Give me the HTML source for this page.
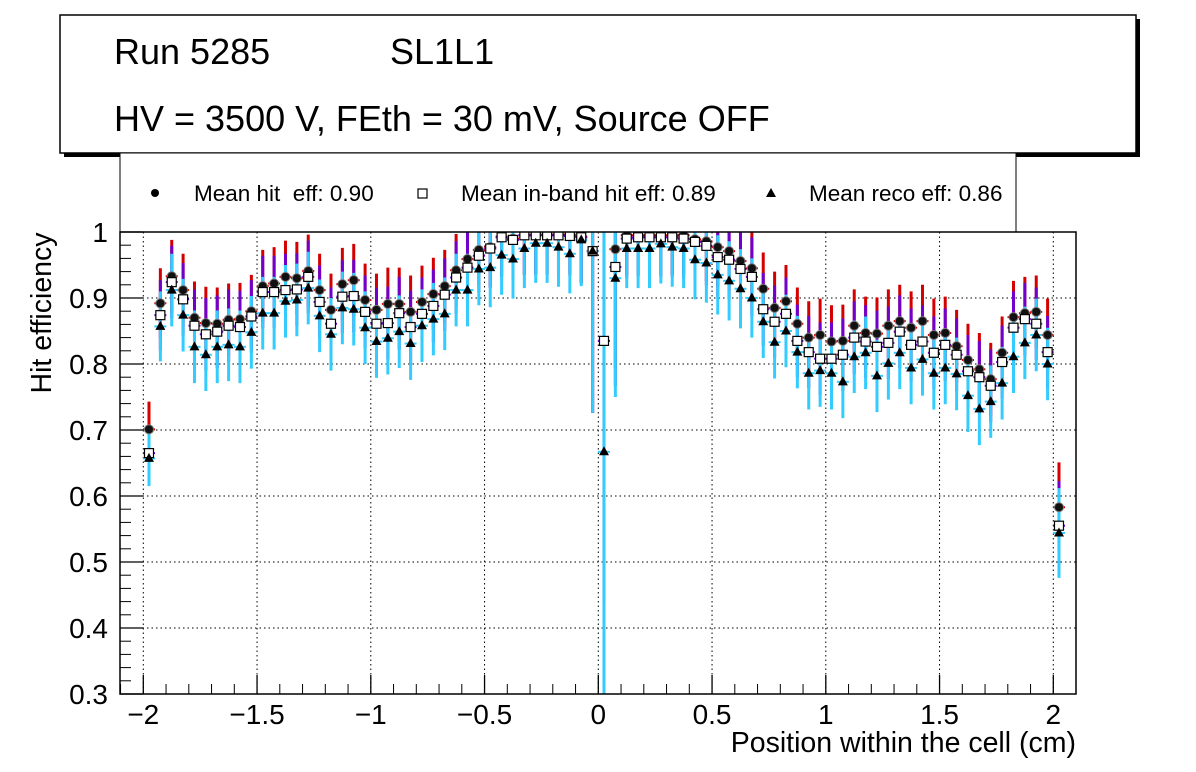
<!DOCTYPE html>
<html><head><meta charset="utf-8"><style>
html,body{margin:0;padding:0;background:#fff;}
svg{display:block;font-family:"Liberation Sans",Arial,sans-serif;}
text{white-space:pre;}
</style></head><body>
<svg id="c" width="1196" height="772" viewBox="0 0 1196 772">
  <rect x="64" y="19" width="1076" height="138" fill="#000"/>
  <rect x="60" y="15" width="1076" height="138" fill="#fff" stroke="#000" stroke-width="1.5"/>
  <text x="114" y="64" font-size="36">Run 5285</text>
  <text x="390" y="64" font-size="36">SL1L1</text>
  <text x="114" y="131" font-size="36">HV = 3500 V, FEth = 30 mV, Source OFF</text>
  <rect x="120" y="153" width="896" height="79" fill="#fff" stroke="#000" stroke-width="1"/>
  <g>
    <circle cx="155" cy="193" r="4" fill="#000"/>
    <text x="194" y="201" font-size="22.5" xml:space="preserve">Mean hit  eff: 0.90</text>
  </g>
  <g>
    <rect x="418" y="189" width="9" height="9" fill="#fff" stroke="#000" stroke-width="1.2"/>
    <text x="461" y="201" font-size="22.5">Mean in-band hit eff: 0.89</text>
  </g>
  <g>
    <polygon points="771,188 776,197 766,197" fill="#000"/>
    <text x="809" y="201" font-size="22.5">Mean reco eff: 0.86</text>
  </g>
  <defs><clipPath id="fc"><rect x="120" y="232" width="956" height="462"/></clipPath></defs>
  <g id="grid"></g>
  <g id="marks" clip-path="url(#fc)"></g>
  <rect x="120" y="232" width="956" height="462" fill="none" stroke="#000" stroke-width="1.5"/>
  <g id="axes"></g>
  <text x="51" y="313" font-size="28.5" text-anchor="middle" transform="rotate(-90 51 313)">Hit efficiency</text>
  <text x="1076" y="752" font-size="28.5" text-anchor="end">Position within the cell (cm)</text>
</svg>
<script>
const xPos=[-1.975,-1.925,-1.875,-1.825,-1.775,-1.725,-1.675,-1.625,-1.575,-1.525,-1.475,-1.425,-1.375,-1.325,-1.275,-1.225,-1.175,-1.125,-1.075,-1.025,-0.975,-0.925,-0.875,-0.825,-0.775,-0.725,-0.675,-0.625,-0.575,-0.525,-0.475,-0.425,-0.375,-0.325,-0.275,-0.225,-0.175,-0.125,-0.075,-0.025,0.025,0.075,0.125,0.175,0.225,0.275,0.325,0.375,0.425,0.475,0.525,0.575,0.625,0.675,0.725,0.775,0.825,0.875,0.925,0.975,1.025,1.075,1.125,1.175,1.225,1.275,1.325,1.375,1.425,1.475,1.525,1.575,1.625,1.675,1.725,1.775,1.825,1.875,1.925,1.975,2.025];
const hitEff=[0.701,0.892,0.933,0.912,0.870,0.862,0.861,0.867,0.868,0.880,0.918,0.922,0.932,0.930,0.941,0.912,0.882,0.921,0.927,0.897,0.882,0.891,0.891,0.879,0.894,0.906,0.918,0.942,0.959,0.973,0.977,0.993,0.990,0.995,0.996,0.996,0.996,0.996,0.993,0.971,0.835,0.974,0.995,0.995,0.995,0.995,0.995,0.995,0.989,0.986,0.977,0.971,0.956,0.945,0.914,0.885,0.895,0.861,0.840,0.844,0.834,0.835,0.858,0.847,0.846,0.858,0.865,0.855,0.865,0.844,0.847,0.827,0.806,0.792,0.777,0.817,0.871,0.877,0.879,0.844,0.583];
const inbandEff=[0.665,0.874,0.924,0.898,0.858,0.845,0.849,0.858,0.856,0.872,0.909,0.909,0.912,0.913,0.932,0.894,0.861,0.902,0.903,0.879,0.861,0.862,0.877,0.856,0.876,0.888,0.905,0.931,0.946,0.964,0.975,0.992,0.988,0.995,0.995,0.995,0.995,0.994,0.992,0.971,0.835,0.947,0.990,0.992,0.992,0.992,0.992,0.990,0.985,0.979,0.962,0.958,0.944,0.932,0.883,0.864,0.876,0.835,0.818,0.808,0.808,0.814,0.840,0.834,0.826,0.832,0.849,0.829,0.834,0.817,0.829,0.814,0.789,0.780,0.767,0.803,0.855,0.868,0.861,0.818,0.555];
const recoEff=[0.657,0.857,0.912,0.874,0.826,0.814,0.826,0.829,0.826,0.848,0.877,0.877,0.895,0.897,0.915,0.873,0.845,0.885,0.883,0.855,0.834,0.839,0.849,0.831,0.858,0.868,0.876,0.912,0.912,0.944,0.946,0.965,0.959,0.975,0.983,0.983,0.977,0.967,0.988,0.971,0.667,0.930,0.975,0.975,0.975,0.982,0.977,0.975,0.958,0.953,0.935,0.926,0.914,0.900,0.864,0.833,0.850,0.818,0.786,0.790,0.786,0.773,0.811,0.817,0.782,0.801,0.817,0.794,0.807,0.786,0.794,0.785,0.752,0.732,0.743,0.771,0.811,0.832,0.844,0.800,0.544];
const errSize=[0.042,0.053,0.055,0.055,0.055,0.055,0.055,0.055,0.055,0.055,0.055,0.055,0.055,0.055,0.055,0.055,0.055,0.055,0.055,0.055,0.055,0.055,0.055,0.055,0.055,0.055,0.055,0.055,0.055,0.055,0.06,0.06,0.06,0.06,0.06,0.06,0.06,0.06,0.07,0.245,0.4,0.18,0.06,0.06,0.06,0.06,0.06,0.06,0.06,0.06,0.06,0.06,0.06,0.06,0.055,0.055,0.055,0.055,0.055,0.055,0.055,0.055,0.055,0.055,0.055,0.055,0.055,0.055,0.055,0.055,0.055,0.055,0.055,0.055,0.055,0.055,0.055,0.055,0.055,0.055,0.068];
const yTicks=["0.3","0.4","0.5","0.6","0.7","0.8","0.9","1"];
const xTicks=["\u22122","\u22121.5","\u22121","\u22120.5","0","0.5","1","1.5","2"];

const NS="http://www.w3.org/2000/svg";
function X(v){return 598.3+227.5*v;}
function Y(v){return 694-(v-0.3)*660;}
function mk(tag,attrs,parent){const e=document.createElementNS(NS,tag);for(const k in attrs)e.setAttribute(k,attrs[k]);parent.appendChild(e);return e;}
const grid=document.getElementById('grid'),axes=document.getElementById('axes'),marks=document.getElementById('marks');

yTicks.forEach(t=>{const v=parseFloat(t),y=Y(v);
  if(v>0.3&&v<1){const g=mk('line',{x1:120,x2:1076,y1:y,y2:y,stroke:'#000','stroke-width':1,'stroke-dasharray':'1.5,3'},grid);
    
    }
  const tk=mk('line',{x1:120,x2:143,y1:y,y2:y,stroke:'#000','stroke-width':1.3},axes);
  
  
  const tx=mk('text',{x:108,y:y+10,'font-size':28,'text-anchor':'end'},axes);tx.textContent=t;
  
  
});
for(let k=0;k<35;k++){const v=0.3+k*0.02;if(k%5===0)continue;const y=Y(v);
  const m=mk('line',{x1:120,x2:131,y1:y,y2:y,stroke:'#000','stroke-width':1},axes);
  
  }
xTicks.forEach(t=>{const v=parseFloat(t.replace('\u2212','-')),x=X(v);
  const g=mk('line',{x1:x,x2:x,y1:232,y2:694,stroke:'#000','stroke-width':1,'stroke-dasharray':'1.5,3'},grid);
  
  
  const tk=mk('line',{x1:x,x2:x,y1:694,y2:675,stroke:'#000','stroke-width':1.3},axes);
  
  
  const tx=mk('text',{x:x,y:724,'font-size':28,'text-anchor':'middle'},axes);tx.textContent=t;
  
  
});
for(let k=-21;k<=20;k++){if(k%5===0)continue;const x=X(k/10);
  const m=mk('line',{x1:x,x2:x,y1:694,y2:684,stroke:'#000','stroke-width':1},axes);
  
  }

const eb=mk('g',{},marks);


const series=[[hitEff,'#d40000'],[inbandEff,'#7000cc'],[recoEff,'#33ccff']];
series.forEach(([arr,col])=>{arr.forEach((v,i)=>{const x=X(xPos[i]),e=errSize[i];
  const l=mk('line',{x1:x,x2:x,y1:Y(v+e),y2:Y(v-e),stroke:col,'stroke-width':3},eb);
  
  
  const h=mk('line',{x1:x-6,x2:x+6,y1:Y(v),y2:Y(v),stroke:col,'stroke-width':2},eb);
  
  
});});
hitEff.forEach((v,i)=>{const c=mk('circle',{cx:X(xPos[i]),cy:Y(v),r:4.5,fill:'#111',stroke:'#777','stroke-width':1},marks);
  
  });
inbandEff.forEach((v,i)=>{const r=mk('rect',{x:X(xPos[i])-4.5,y:Y(v)-4.5,width:9,height:9,fill:'#fff',stroke:'#000','stroke-width':1.2},marks);
  
  });
recoEff.forEach((v,i)=>{const x=X(xPos[i]),y=Y(v);
  const p=mk('polygon',{points:`${x},${y-5.5} ${x+5},${y+3.5} ${x-5},${y+3.5}`,fill:'#000'},marks);
  
  });
</script>
</body></html>
